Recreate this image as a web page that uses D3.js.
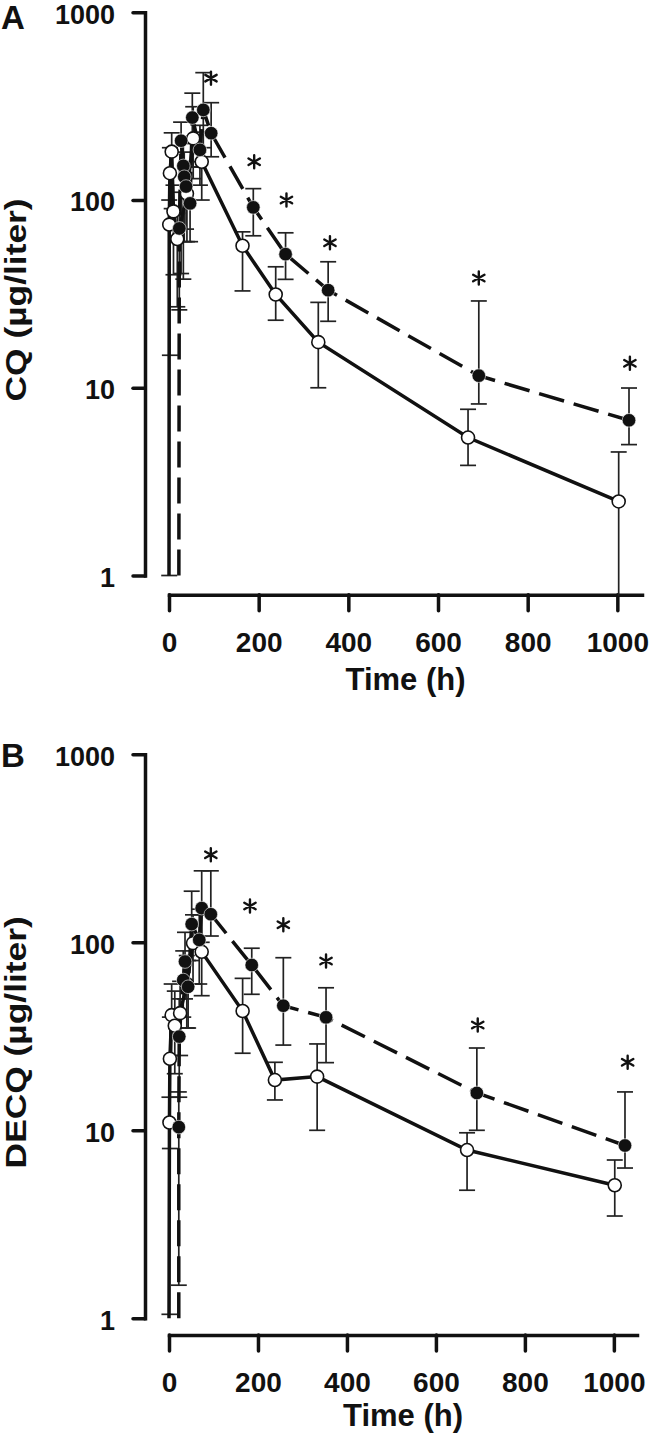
<!DOCTYPE html>
<html lang="en">
<head>
<meta charset="UTF-8">
<title>CQ and DECQ concentrations</title>
<script src="https://cdn.jsdelivr.net/npm/d3@7"></script>
<style>
    body { margin: 0; background: #fff; }
    svg { display: block; font-family: "Liberation Sans", Arial, sans-serif; font-weight: bold; }
</style>
</head>
<body>
<svg id="fig" width="650" height="1433"></svg>
<script>
// ticks
const timeTicks = [0, 200, 400, 600, 800, 1000];
const concTicks = [1, 10, 100, 1000];

// panel A, CQ. open circles / solid line, filled circles / dashed line
// 0 = below limit, drawn at the bottom of the axis
const cqOpenTime = [0, 0.5, 2, 6, 10, 18.5, 40, 54, 73, 164, 238, 333, 667, 1003];
const cqOpenConc = [0, 74, 139, 181, 87, 62, 108, 213, 160, 57.1, 31.4, 17.5, 5.43, 2.48];
const cqOpenLow  = [null, 1.0, 14.9, 90, 40, 27, 60, 130, 100, 32.8, 22.9, 10, 3.86, 0.78];
const cqOpenHigh = [null, 100, 190, 228, 120, 85, 160, 314, 230, 67.7, 44.1, 28.5, 7.68, 4.55];

const cqFillTime = [22, 23, 27, 32, 34, 38, 47, 52, 69, 76.5, 94, 188, 260, 355, 691, 1026];
const cqFillConc = [0, 70.6, 207, 152, 133, 118, 96, 275, 185, 302, 227, 91.4, 51.5, 33.1, 11.6, 6.71];
const cqFillLow  = [null, 26, 40.6, 37.9, 60, 70, 60, 150, 120, 190, 170, 64.5, 37.8, 22.6, 8.2, 4.98];
const cqFillHigh = [null, 110, 260, 200, 180, 160, 150, 371, 250, 477, 330, 115, 66.9, 46.9, 29, 9.97];

const cqStarTime = [93.6, 190, 262, 359, 691, 1028];
const cqStarConc = [446, 160, 100, 59.2, 38.4, 13.5];

// panel B, DECQ
const decqOpenTime = [0, 1, 2, 6, 13, 25, 40, 54, 73.5, 165.5, 238, 333, 670, 1002];
const decqOpenConc = [0, 11, 24, 41, 36, 42, 60, 99, 89, 43.1, 18.5, 19.3, 7.85, 5.1];
const decqOpenLow  = [null, 1.05, 8, 25, 20, 25, 35, 60, 52, 25.7, 14.5, 10, 4.8, 3.5];
const decqOpenHigh = [null, 15, 40, 60, 55, 62, 85, 140, 140, 64.3, 23, 28.8, 9.7, 6.95];

const decqFillTime = [22, 22, 23, 32, 36, 43, 51, 68, 73.5, 94, 186, 257, 353, 692, 1025];
const decqFillConc = [0, 10.4, 31.5, 63, 79, 58, 125, 103, 152, 141, 75.7, 46, 39.9, 15.8, 8.3];
const decqFillLow  = [null, 1.5, 15, 40, 50, 35, 80, 60, 100, 108, 52.9, 28.4, 22.9, 10, 6.3];
const decqFillHigh = [null, 16, 50, 90, 113, 80, 187, 150, 240, 240, 93, 82.8, 57.3, 27.4, 16];

const decqStarTime = [94, 182, 257, 353, 694, 1031];
const decqStarConc = [292, 156, 124, 79.5, 36.3, 23];

const svg = d3.select("#fig");

function pts(t, v, lo, hi) {
    return t.map((d, i) => ({t: d, v: v[i], lo: lo ? lo[i] : null, hi: hi ? hi[i] : null}));
}

function panel(p) {
    const x = d3.scaleLinear().domain([0, p.xMax]).range([169, p.xEnd]);
    const y = d3.scaleLog().domain([1, 1000]).range([p.yBottom, p.yTop]);
    const yv = v => y(Math.max(v, 1));
    const g = svg.append("g");

    // y axis
    const ya = g.append("g")
        .attr("transform", "translate(145,0)")
        .call(d3.axisLeft(y).tickValues(concTicks).tickSize(12).tickSizeOuter(0)
            .tickPadding(18).tickFormat(d3.format("d")));
    ya.selectAll(".tick text").attr("dy", "0.4em");
    // x axis
    const xa = g.append("g")
        .attr("transform", `translate(0,${p.xAxisY})`)
        .call(d3.axisBottom(x).tickValues(timeTicks).tickSize(16).tickSizeOuter(0)
            .tickPadding(21).tickFormat(d3.format("d")));
    [ya, xa].forEach(a => {
        a.selectAll("path.domain").attr("stroke", "#111").attr("stroke-width", 3.5).attr("stroke-linecap", "square");
        a.selectAll(".tick line").attr("stroke", "#111").attr("stroke-width", 3.5).attr("stroke-linecap", "round");
        a.selectAll(".tick text").attr("fill", "#111").attr("font-size", 28)
            .attr("font-family", "Liberation Sans, Arial, sans-serif").attr("font-weight", "bold");
    });
    ya.selectAll(".tick text").attr("font-size", 27);

    // titles
    g.append("text").attr("x", 1).attr("y", p.letterY)
        .attr("font-size", 33).attr("fill", "#111").text(p.letter);
    g.append("text")
        .attr("transform", `translate(${(169 + p.xEnd) / 2},${p.xTitleY})`)
        .attr("text-anchor", "middle").attr("font-size", 31).attr("fill", "#111")
        .text("Time (h)");
    g.append("text")
        .attr("transform", `translate(26,${(p.yTop + p.yBottom) / 2 + 6}) scale(1,1.22) rotate(-90)`)
        .attr("text-anchor", "middle").attr("font-size", 29).attr("fill", "#111")
        .text(p.yTitle);

    const open = pts(p.openT, p.openV, p.openLo, p.openHi);
    const fill = pts(p.fillT, p.fillV, p.fillLo, p.fillHi);

    // error bars
    const bars = open.concat(fill).filter(d => d.lo != null);
    const eb = g.append("g").attr("stroke", "#222").attr("stroke-width", 1.7).attr("fill", "none");
    eb.selectAll("line.v").data(bars).join("line")
        .attr("x1", d => x(d.t)).attr("x2", d => x(d.t))
        .attr("y1", d => y(d.lo)).attr("y2", d => y(d.hi));
    eb.selectAll("line.hi").data(bars).join("line").attr("class", "hi")
        .attr("x1", d => x(d.t) - 8).attr("x2", d => x(d.t) + 8)
        .attr("y1", d => y(d.hi)).attr("y2", d => y(d.hi));
    eb.selectAll("line.lo").data(bars.filter(d => d.lo >= 1)).join("line").attr("class", "lo")
        .attr("x1", d => x(d.t) - 8).attr("x2", d => x(d.t) + 8)
        .attr("y1", d => y(d.lo)).attr("y2", d => y(d.lo));

    // lines
    const line = d3.line().x(d => x(d.t)).y(d => yv(d.v));
    g.append("path").datum(open).attr("d", line)
        .attr("fill", "none").attr("stroke", "#111").attr("stroke-width", 3.5);
    g.append("path").datum(fill).attr("d", line)
        .attr("fill", "none").attr("stroke", "#111").attr("stroke-width", 3.5)
        .attr("stroke-dasharray", "26,10");

    // markers
    g.selectAll("circle.o").data(open.filter(d => d.v > 0)).join("circle").attr("class", "o")
        .attr("cx", d => x(d.t)).attr("cy", d => y(d.v)).attr("r", 6.5)
        .attr("fill", "#fff").attr("stroke", "#111").attr("stroke-width", 1.6);
    g.selectAll("circle.f").data(fill.filter(d => d.v > 0)).join("circle").attr("class", "f")
        .attr("cx", d => x(d.t)).attr("cy", d => y(d.v)).attr("r", 6.8)
        .attr("fill", "#111").attr("stroke", "#fff").attr("stroke-width", 0.6);

    // significance stars
    const star = d3.symbol(d3.symbolAsterisk, 120);
    g.selectAll("path.star").data(p.starT.map((t, i) => ({t: t, v: p.starV[i]}))).join("path")
        .attr("class", "star")
        .attr("transform", d => `translate(${x(d.t)},${y(d.v)})`)
        .attr("d", star).attr("fill", "none").attr("stroke", "#111")
        .attr("stroke-width", 2.4).attr("stroke-linecap", "round");
}

panel({
    letter: "A", letterY: 29, yTitle: "CQ (µg/liter)",
    yTop: 12.3, yBottom: 575.5, xAxisY: 594.7, xEnd: 642, xMax: 1055, xTitleY: 690,
    openT: cqOpenTime, openV: cqOpenConc, openLo: cqOpenLow, openHi: cqOpenHigh,
    fillT: cqFillTime, fillV: cqFillConc, fillLo: cqFillLow, fillHi: cqFillHigh,
    starT: cqStarTime, starV: cqStarConc
});
panel({
    letter: "B", letterY: 767, yTitle: "DECQ (µg/liter)",
    yTop: 754.3, yBottom: 1318.3, xAxisY: 1335, xEnd: 637, xMax: 1052, xTitleY: 1426,
    openT: decqOpenTime, openV: decqOpenConc, openLo: decqOpenLow, openHi: decqOpenHigh,
    fillT: decqFillTime, fillV: decqFillConc, fillLo: decqFillLow, fillHi: decqFillHigh,
    starT: decqStarTime, starV: decqStarConc
});
</script>
</body>
</html>
